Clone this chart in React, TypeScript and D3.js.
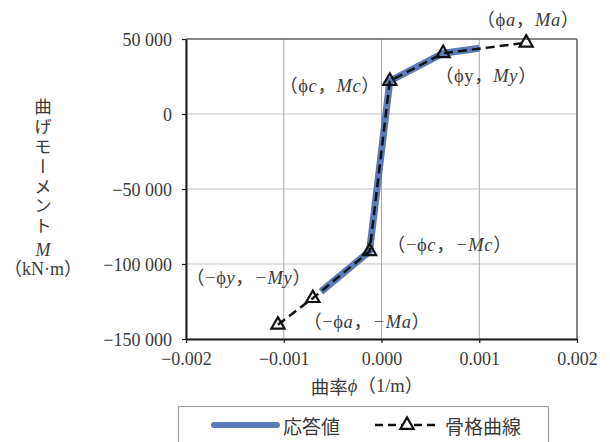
import * as d3 from 'd3';
import { useEffect, useRef } from 'react';

// axis ticks
const xTicks = [-0.002, -0.001, 0, 0.001, 0.002];
const yTicks = [50000, 0, -50000, -100000, -150000];

// 骨格曲線 : -φa, -φy, -φc, φc, φy, φa
const skeletonPhi = [-0.00106, -0.000703, -0.000122, 0.000085, 0.00063, 0.00148];
const skeletonM = [-140500, -122800, -91500, 22000, 40500, 47500];

// 応答値
const responsePhi = [-0.00062, -0.000122, 0.000085, 0.00063, 0.001];
const responseM = [-118500, -91500, 22000, 40500, 43800];

// point labels: [text, italic]
const pointLabels = [
    [['（−ϕ', false], ['a', true], ['，', false], ['−Ma', true], ['）', false]],
    [['（−ϕ', false], ['y', true], ['，', false], ['−My', true], ['）', false]],
    [['（−ϕ', false], ['c', true], ['，', false], ['−Mc', true], ['）', false]],
    [['（ϕ', false], ['c', true], ['，', false], ['Mc', true], ['）', false]],
    [['（ϕy', false], ['，', false], ['My', true], ['）', false]],
    [['（ϕ', false], ['a', true], ['，', false], ['Ma', true], ['）', false]],
];
const labelOffsets = [[89, -3], [-64, -20], [80, -6], [-60, 5], [43, 23], [2, -23]];

const yTitle = '曲げモーメント';

const SERIF = "'Liberation Serif', 'Times New Roman', 'Noto Sans CJK JP', serif";
const CJK = "'Noto Sans CJK JP', sans-serif";
const BLUE = '#5b7cb8';
const TEXT = '#3a3a3a';

const App = () => {
    const ref = useRef(null);

    useEffect(() => {
        const svg = d3.select(ref.current);
        svg.selectAll('*').remove();

        const width = 610;
        const height = 442;
        const margin = { top: 39, right: 33, bottom: 103, left: 186 };

        const x = d3.scaleLinear()
            .domain([-0.002, 0.002])
            .range([margin.left, width - margin.right]);
        const y = d3.scaleLinear()
            .domain([-150000, 50000])
            .range([height - margin.bottom, margin.top]);

        const fmtY = d => d3.format(',')(d).replace(/,/g, ' ');
        const fmtX = d3.format('.3f');

        // gridlines
        svg.append('g')
            .selectAll('line')
            .data(yTicks)
            .enter().append('line')
            .attr('x1', x(-0.002)).attr('x2', x(0.002))
            .attr('y1', d => y(d)).attr('y2', d => y(d))
            .attr('stroke', '#d6d6d6').attr('stroke-width', 1.5);
        svg.append('g')
            .selectAll('line')
            .data(xTicks)
            .enter().append('line')
            .attr('x1', d => x(d)).attr('x2', d => x(d))
            .attr('y1', y(50000)).attr('y2', y(-150000))
            .attr('stroke', '#a8a8a8').attr('stroke-width', 1);

        // frame
        svg.append('line')
            .attr('x1', x(-0.002)).attr('x2', x(0.002))
            .attr('y1', y(50000)).attr('y2', y(50000))
            .attr('stroke', '#6a6a6a').attr('stroke-width', 1.5);
        svg.append('line')
            .attr('x1', x(0.002)).attr('x2', x(0.002))
            .attr('y1', y(50000)).attr('y2', y(-150000))
            .attr('stroke', '#6a6a6a').attr('stroke-width', 1.5);

        // axes
        const xAxis = d3.axisBottom(x).tickValues(xTicks).tickFormat(fmtX).tickSize(4).tickSizeOuter(0);
        const yAxis = d3.axisLeft(y).tickValues(yTicks).tickFormat(fmtY).tickSize(4).tickSizeOuter(0);

        const gx = svg.append('g')
            .attr('transform', `translate(0, ${y(-150000)})`)
            .call(xAxis);
        const gy = svg.append('g')
            .attr('transform', `translate(${x(-0.002)}, 0)`)
            .call(yAxis);

        [gx, gy].forEach(g => {
            g.select('.domain').attr('stroke', '#1a1a1a').attr('stroke-width', 2);
            g.selectAll('.tick line').attr('stroke', '#1a1a1a').attr('stroke-width', 1.2);
            g.selectAll('.tick text')
                .attr('fill', TEXT)
                .style('font-family', SERIF)
                .style('font-size', '18px');
        });
        gx.selectAll('.tick text').attr('dy', null).attr('y', 26);
        gy.selectAll('.tick text').attr('x', -14).attr('dy', '0.34em');

        // 応答値
        const responseData = responsePhi.map((p, i) => [p, responseM[i]]);
        const skeletonData = skeletonPhi.map((p, i) => [p, skeletonM[i]]);
        const line = d3.line().x(d => x(d[0])).y(d => y(d[1]));

        svg.append('path')
            .datum(responseData)
            .attr('d', line)
            .attr('fill', 'none')
            .attr('stroke', BLUE)
            .attr('stroke-width', 7)
            .attr('stroke-linejoin', 'round');

        // 骨格曲線
        svg.append('path')
            .datum(skeletonData)
            .attr('d', line)
            .attr('fill', 'none')
            .attr('stroke', '#111')
            .attr('stroke-width', 2.5)
            .attr('stroke-dasharray', '9 5');

        const tri = d3.symbol().type(d3.symbolTriangle).size(75);
        svg.selectAll('path.marker')
            .data(skeletonData)
            .enter().append('path')
            .attr('class', 'marker')
            .attr('d', tri)
            .attr('transform', d => `translate(${x(d[0])}, ${y(d[1])})`)
            .attr('fill', 'none')
            .attr('stroke', '#111')
            .attr('stroke-width', 2.2);

        // point labels
        pointLabels.forEach((parts, i) => {
            const t = svg.append('text')
                .attr('x', x(skeletonData[i][0]) + labelOffsets[i][0])
                .attr('y', y(skeletonData[i][1]) + labelOffsets[i][1])
                .attr('text-anchor', 'middle')
                .attr('dominant-baseline', 'central')
                .attr('fill', TEXT)
                .attr('letter-spacing', 0.6)
                .style('font-family', SERIF)
                .style('font-size', '18.5px');
            parts.forEach(([s, it]) => {
                t.append('tspan')
                    .attr('font-style', it ? 'italic' : 'normal')
                    .text(s);
            });
        });

        // y title (vertical)
        const cx = 43;
        svg.append('text')
            .attr('x', cx)
            .attr('y', 98)
            .attr('writing-mode', 'tb')
            .attr('letter-spacing', 2.3)
            .attr('fill', TEXT)
            .style('font-family', CJK)
            .style('font-size', '17.5px')
            .text(yTitle);
        svg.append('text')
            .attr('x', cx).attr('y', 250)
            .attr('text-anchor', 'middle')
            .attr('dominant-baseline', 'central')
            .attr('font-style', 'italic')
            .attr('fill', TEXT)
            .style('font-family', SERIF)
            .style('font-size', '18px')
            .text('M');
        svg.append('text')
            .attr('x', cx).attr('y', 269)
            .attr('text-anchor', 'middle')
            .attr('dominant-baseline', 'central')
            .attr('fill', TEXT)
            .style('font-family', SERIF)
            .style('font-size', '18px')
            .text('（kN·m）');

        // x title
        const xt = svg.append('text')
            .attr('x', 367).attr('y', 386)
            .attr('text-anchor', 'middle')
            .attr('dominant-baseline', 'central')
            .attr('fill', TEXT)
            .style('font-family', SERIF)
            .style('font-size', '18.5px');
        xt.append('tspan').style('font-family', CJK).text('曲率');
        xt.append('tspan').attr('font-style', 'italic').text('ϕ');
        xt.append('tspan').text('（1/m）');

        // legend
        const lg = svg.append('g');
        lg.append('rect')
            .attr('x', 178.5).attr('y', 406.5)
            .attr('width', 370).attr('height', 60)
            .attr('fill', 'white')
            .attr('stroke', '#a0a0a0').attr('stroke-width', 1.2);
        lg.append('line')
            .attr('x1', 214).attr('x2', 277)
            .attr('y1', 425).attr('y2', 425)
            .attr('stroke', BLUE).attr('stroke-width', 6)
            .attr('stroke-linecap', 'round');
        lg.append('text')
            .attr('x', 283).attr('y', 425)
            .attr('dominant-baseline', 'central')
            .attr('fill', TEXT)
            .style('font-family', CJK)
            .style('font-size', '19px')
            .text('応答値');
        lg.append('line')
            .attr('x1', 375).attr('x2', 438)
            .attr('y1', 425).attr('y2', 425)
            .attr('stroke', '#111').attr('stroke-width', 2.5)
            .attr('stroke-dasharray', '8 5');
        lg.append('path')
            .attr('d', tri)
            .attr('transform', 'translate(407, 425)')
            .attr('fill', 'white')
            .attr('stroke', '#111')
            .attr('stroke-width', 2.2);
        lg.append('text')
            .attr('x', 445).attr('y', 425)
            .attr('dominant-baseline', 'central')
            .attr('fill', TEXT)
            .style('font-family', CJK)
            .style('font-size', '19px')
            .text('骨格曲線');
    }, []);

    return (
        <svg
            ref={ref}
            width="610"
            height="442"
            style={{ position: 'absolute', left: 0, top: 0, background: 'white' }}
        ></svg>
    );
};

export default App;
